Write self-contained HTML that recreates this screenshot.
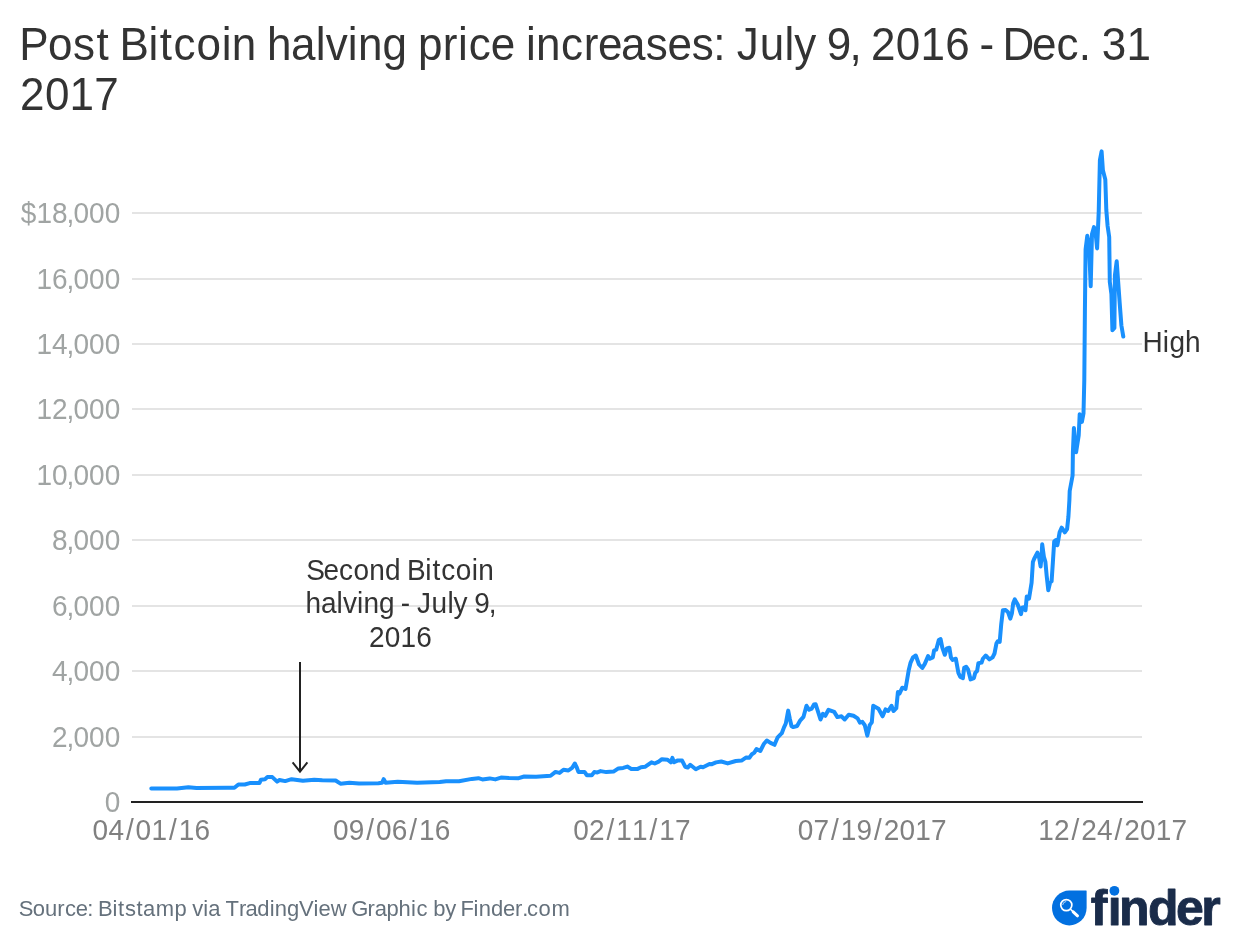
<!DOCTYPE html>
<html lang="en">
<head>
<meta charset="utf-8">
<title>Post Bitcoin halving price increases: July 9, 2016 - Dec. 31 2017</title>
<style>
html,body{margin:0;padding:0;background:#fff;}
body{width:1240px;height:952px;overflow:hidden;font-family:"Liberation Sans", Arial, Helvetica, sans-serif;}
svg{display:block;}
text{font-family:"Liberation Sans", Arial, Helvetica, sans-serif;white-space:pre;}
.title{font-size:44px;fill:#333;}
.ylab{font-size:28px;fill:#a0a4a3;}
.xlab{font-size:28px;fill:#808080;}
.ann{font-size:28px;fill:#333;}
.ser{font-size:28px;fill:#333;}
.foot{font-size:22px;fill:#65717c;}
.logo{font-family:'Liberation Sans',Arial,Helvetica,sans-serif;font-size:50px;font-weight:bold;fill:#1a2c4a;stroke:#1a2c4a;stroke-width:0.9px;stroke-linejoin:round;}
</style>
</head>
<body>
<svg width="1240" height="952" viewBox="0 0 1240 952">
<rect width="1240" height="952" fill="#fff"/>
<!-- headline -->
<text class="title" x="19.2 48.1 72.9 96.4 109 119.6 148.5 159.8 173.6 196.4 221.7 231.8 255.6 267 291.1 315.8 325.7 347.8 357.9 382.4 406.4 418.1 442.8 458 468.8 490.7 514 526 536.1 561 583.7 597.9 621.1 645.7 667.5 691.7 713.3 724.1 736.8 759.8 784.6 794.3 815 826.7 849.6 859.3 871 895.8 920.5 945.2 969.2 979.5 992.2 1002.4 1032.1 1056.5 1078.7 1090 1101.7 1126.4" y="59.7" transform="matrix(1 0 0 1.034 0 -2.03)">Post Bitcoin halving price increases: July 9, 2016 - Dec. 31</text>
<text class="title" x="20.1 44.9 69.6 94.3" y="109.7" transform="matrix(1 0 0 1.034 0 -3.73)">2017</text>
<!-- grid -->
<g stroke="#e4e4e4" stroke-width="2" fill="none">
<line x1="132" x2="1142" y1="213" y2="213"/>
<line x1="132" x2="1142" y1="279" y2="279"/>
<line x1="132" x2="1142" y1="344" y2="344"/>
<line x1="132" x2="1142" y1="409" y2="409"/>
<line x1="132" x2="1142" y1="475" y2="475"/>
<line x1="132" x2="1142" y1="540" y2="540"/>
<line x1="132" x2="1142" y1="606" y2="606"/>
<line x1="132" x2="1142" y1="671" y2="671"/>
<line x1="132" x2="1142" y1="737" y2="737"/>
</g>
<line x1="131" x2="1143" y1="802" y2="802" stroke="#222" stroke-width="2"/>
<!-- y labels -->
<text class="ylab" x="20.7 36.4 52.1 66.6 73.4 89.1 104.8" y="223.2" transform="matrix(1 0 0 1.034 0 -7.59)">$18,000</text>
<text class="ylab" x="36.4 52.1 66.6 73.4 89.1 104.8" y="289.2" transform="matrix(1 0 0 1.034 0 -9.83)">16,000</text>
<text class="ylab" x="36.4 52.1 66.6 73.4 89.1 104.8" y="354.2" transform="matrix(1 0 0 1.034 0 -12.04)">14,000</text>
<text class="ylab" x="36.4 52.1 66.6 73.4 89.1 104.8" y="419.2" transform="matrix(1 0 0 1.034 0 -14.25)">12,000</text>
<text class="ylab" x="36.4 52.1 66.6 73.4 89.1 104.8" y="485.2" transform="matrix(1 0 0 1.034 0 -16.50)">10,000</text>
<text class="ylab" x="52.1 66.6 73.4 89.1 104.8" y="550.2" transform="matrix(1 0 0 1.034 0 -18.71)">8,000</text>
<text class="ylab" x="52.1 66.6 73.4 89.1 104.8" y="616.2" transform="matrix(1 0 0 1.034 0 -20.95)">6,000</text>
<text class="ylab" x="52.1 66.6 73.4 89.1 104.8" y="681.2" transform="matrix(1 0 0 1.034 0 -23.16)">4,000</text>
<text class="ylab" x="52.1 66.6 73.4 89.1 104.8" y="747.2" transform="matrix(1 0 0 1.034 0 -25.40)">2,000</text>
<text class="ylab" x="104.8" y="812.2" transform="matrix(1 0 0 1.034 0 -27.61)">0</text>
<!-- x labels -->
<text class="xlab" x="92.6 108.4 125.9 135.6 151.4 168.9 178.7 194.4" y="839.5" transform="matrix(1 0 0 1.034 0 -28.54)">04/01/16</text>
<text class="xlab" x="332.9 348.7 366.2 375.9 391.7 409.2 419 434.7" y="839.5" transform="matrix(1 0 0 1.034 0 -28.54)">09/06/16</text>
<text class="xlab" x="573.2 589 606.5 616.2 632 649.5 659.3 675" y="839.5" transform="matrix(1 0 0 1.034 0 -28.54)">02/11/17</text>
<text class="xlab" x="797.8 813.5 831.1 840.8 856.5 874.1 883.8 899.6 915.3 931" y="839.5" transform="matrix(1 0 0 1.034 0 -28.54)">07/19/2017</text>
<text class="xlab" x="1038.2 1053.9 1071.5 1081.2 1096.9 1114.5 1124.2 1140 1155.7 1171.4" y="839.5" transform="matrix(1 0 0 1.034 0 -28.54)">12/24/2017</text>
<!-- series -->
<path d="M151.3,788.6 L177,788.4 L188.4,787.3 L196.5,787.9 L227,787.8 L234.4,787.8 L238.4,784.5 L244.8,784.5 L249.7,783.1 L259.4,783.1 L261,779.7 L265,779.2 L267.4,777.1 L272.3,777.1 L277.1,781.6 L279.5,780 L285.2,781.1 L291.6,779.2 L302.9,780.8 L314.2,779.7 L322.3,780.3 L335.6,780.5 L340.5,783.7 L349.4,782.8 L359,783.4 L378.4,783.2 L382,782.8 L383.7,779.2 L385.6,782.8 L397.7,781.8 L417.1,782.8 L439.7,782.1 L446.1,781.3 L459,781.3 L471.9,778.9 L478.4,778.2 L482.4,779.4 L489.7,778.4 L495.3,779.4 L501,777.6 L509,778.1 L518.7,778.2 L524.2,776.5 L536.1,776.8 L550.6,775.8 L555.5,771.9 L559.5,772.9 L563.5,769.7 L568.4,770.5 L572.4,767.6 L574.8,763.5 L576.5,766.8 L578.4,771.9 L584.5,771.9 L586.9,775.2 L591.8,775.2 L594.2,772.1 L597.4,772.4 L600.6,771.1 L606.3,772.1 L613.5,771.6 L618.4,768.4 L623.2,767.9 L627.3,766.6 L631.3,768.9 L637.7,768.9 L641,767.3 L645,766.8 L651.5,762.3 L654.7,763.5 L658.7,761.6 L661.9,759.2 L667.6,759.7 L670.8,762.3 L672.4,757.9 L674,762.3 L677.3,760.6 L682.1,760.6 L685.3,766.8 L687.7,767.6 L690.2,764.8 L695.8,769.2 L700.6,766.8 L703,767.3 L709.5,763.9 L711.9,764.2 L716,762.4 L721.3,761.5 L727.7,763.4 L735.8,761 L741.5,760.6 L746.3,757.4 L749.5,757.7 L751.9,754.2 L754.4,752.6 L756.5,749 L760.3,751 L764,743.7 L766.8,740.5 L770.5,742.9 L774.5,744.8 L777.7,737.3 L781.8,733.2 L783.9,727.6 L785.8,723.5 L788.2,710.6 L789.8,718.7 L791.5,726 L793.1,727.1 L797.1,726 L800.3,720.3 L803.5,716.8 L806.5,705.8 L809.2,709.8 L811.6,708.7 L814,704.5 L815.6,704.2 L817.7,710.6 L820.5,719.5 L822.9,713.9 L825.3,715.8 L828.5,709.8 L834.2,711.9 L837.4,717.1 L841.5,716.3 L844.7,719.5 L848.7,714.7 L853.5,715.8 L857.6,718.4 L860,722.7 L862.4,721.9 L864.8,725.2 L867.3,735.6 L869.7,725.2 L871.8,722.3 L873.2,705.8 L878.5,708.7 L882.6,716.3 L885.5,709.4 L888.2,711 L891.5,705.8 L893.5,711 L896.3,708.2 L897.9,692.1 L899.5,693.7 L902.3,687.7 L905.5,689 L908.7,670.3 L910.6,662.6 L913,657.4 L915.8,655.5 L919,664.5 L922.3,668 L924.8,663.9 L928.1,656.1 L930,658.7 L932.8,657.4 L934.1,650.3 L936.2,649.7 L938.8,640 L940.6,639.1 L942.3,647.7 L944.8,654.8 L946.8,648.4 L949.4,647.7 L950.9,657.4 L952.6,660 L955.8,658.7 L958.4,672.9 L960.3,677 L962.9,678.1 L964.2,667.7 L966.1,666.7 L968.1,669.7 L970.6,679.4 L973.9,678.1 L975.2,672.9 L977.1,671 L978.4,663.2 L981.6,662.6 L982.9,658.7 L985.7,655.5 L989.4,659.4 L992.6,657.4 L994.5,653.5 L996.5,643.2 L997.7,641.3 L999.7,641.9 L1001.2,624.5 L1002.9,610.3 L1005.5,609.9 L1008.1,612.3 L1010.3,618.7 L1011.9,613.5 L1013.2,603.2 L1014.8,599.4 L1017.7,604.5 L1021,614.2 L1022.3,607.7 L1024.2,607.1 L1025.5,610.3 L1026.8,596.5 L1029,598.7 L1031.6,582.6 L1032.9,561.9 L1034.2,558.7 L1037.4,552.6 L1039,556.8 L1040.6,566.5 L1041.5,556.8 L1042.2,544.3 L1043.9,556.8 L1045.4,561.9 L1046.7,576.1 L1048.3,590.3 L1050.1,582.6 L1051.6,581.3 L1052.9,561.9 L1054.2,541.3 L1056.1,540 L1057.4,545.2 L1059.6,532.3 L1061.7,527.7 L1064.8,532.3 L1067.1,529 L1068.4,516.8 L1069.4,500 L1069.7,491 L1072.6,475.5 L1072.9,452.3 L1073.9,428 L1076.1,452.3 L1078.7,435.5 L1079.7,414.2 L1081.9,421.9 L1083.5,413.5 L1084.3,380 L1084.9,311.6 L1085.6,249.2 L1087.3,235.8 L1089,244.2 L1090.7,286.2 L1092,234.1 L1094,227.1 L1095.7,234.1 L1097.1,248.4 L1098.7,212.3 L1099.9,160.2 L1101.6,151.4 L1102.9,170.3 L1105.3,179.5 L1106.3,210 L1107.6,226 L1109.2,237 L1109.8,282 L1111.4,294 L1112.4,330.3 L1114.4,328 L1114.9,275.5 L1116.7,261.3 L1118.1,281 L1119.6,302 L1121.4,325.5 L1123.3,336.6" fill="none" stroke="#1990fd" stroke-width="4" stroke-linejoin="round" stroke-linecap="round"/>
<text class="ser" x="1142.4 1162.8 1169.4 1184.9" y="352" transform="matrix(1 0 0 1.034 0 -11.97)">High</text>
<!-- annotation -->
<text class="ann" x="306.2 323.5 339 353.5 369.2 384.9 400.1 406.9 425.2 432.4 441.2 455.8 471.8 478.3" y="579.7" transform="matrix(1 0 0 1.034 0 -19.71)">Second Bitcoin</text>
<text class="ann" x="305.5 320.9 336.6 342.9 356.9 363.4 379 394.2 400.8 408.9 417 431.6 447.4 453.6 466.8 474.2 488.7" y="613.5" transform="matrix(1 0 0 1.034 0 -20.86)">halving - July 9,</text>
<text class="ann" x="369.1 384.8 400.6 416.3" y="647.4" transform="matrix(1 0 0 1.034 0 -22.01)">2016</text>
<g stroke="#222" stroke-width="2" fill="none" stroke-linecap="butt">
<line x1="300" y1="662" x2="300" y2="771"/>
<polyline points="292.6,762.4 300,771.6 307.4,762.4"/>
</g>
<!-- footer -->
<text class="foot" x="18.7 32.7 45.1 57.3 65 75.7 87.3 92.7 98 112.4 118.1 124.9 136.6 143.1 155.7 174.6 186.5 192.2 203.2 208.2 220 225.6 239 245.4 257.2 269.7 274.8 287 299 313.6 318.4 330.7 346.6 351.3 367.4 374.7 386.4 398.6 411 416.4 427.3 433.2 445.2 455.4 460.6 473.6 478.7 491 503 515 522.3 527.1 538.6 551.4" y="916.2" transform="matrix(1 0 0 1.034 0 -31.15)">Source: Bitstamp via TradingView Graphic by Finder.com</text>
<!-- finder logo -->
<g>
<path d="M1069.3 890.6 H1086.1 a0.5 0.5 0 0 1 0.5 0.5 V908 A17.3 17.4 0 1 1 1069.3 890.6 Z" fill="#0270e0"/>
<circle cx="1066.3" cy="905.1" r="5.55" fill="none" stroke="#fff" stroke-width="1.7"/>
<path d="M1062.7 904.6 A3.7 3.7 0 0 1 1065.8 901.5" fill="none" stroke="#fff" stroke-width="0.7" stroke-linecap="round"/>
<line x1="1070.3" y1="909" x2="1073.2" y2="911.8" stroke="#fff" stroke-width="1.6"/>
<line x1="1073.2" y1="911.9" x2="1077.5" y2="915.8" stroke="#fff" stroke-width="3" stroke-linecap="round"/>
<text class="logo" x="1090.8 1107.7 1119 1147.9 1176 1201.3" y="924.5">finder</text>
<rect x="1109.5" y="884" width="10.5" height="13.2" fill="#fff"/>
<circle cx="1114.4" cy="890.8" r="4.9" fill="#0270e0"/>
</g>
</svg>
</body>
</html>
